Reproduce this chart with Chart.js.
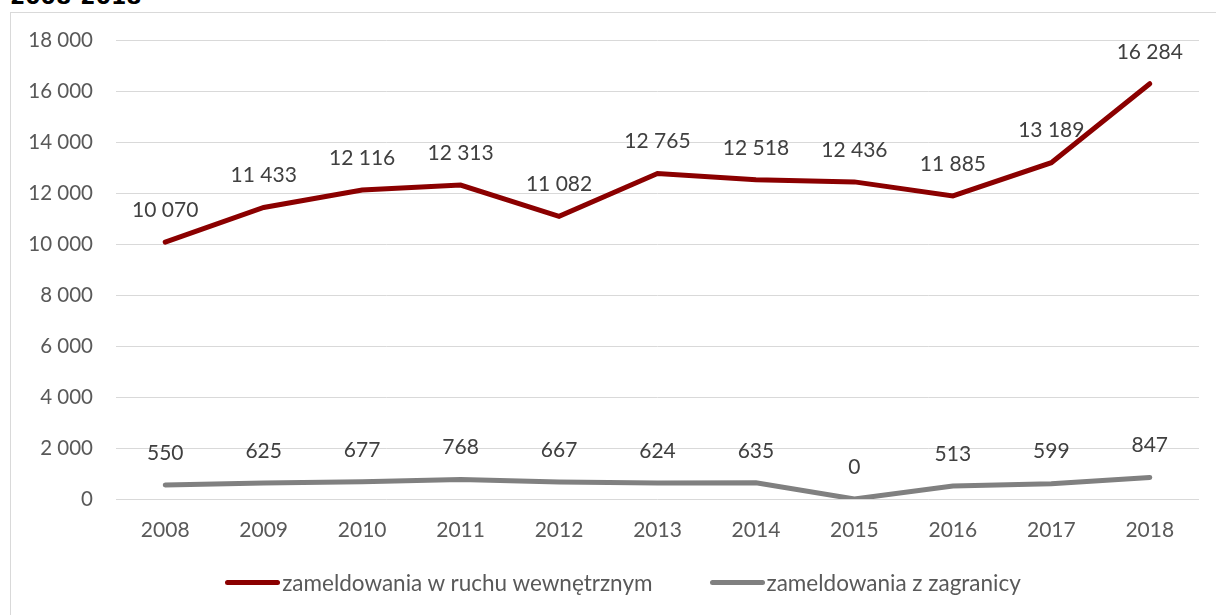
<!DOCTYPE html>
<html>
<head>
<meta charset="utf-8">
<script src="https://cdn.jsdelivr.net/npm/chart.js@4/dist/chart.umd.min.js"></script>
<style>
    html, body { margin: 0; padding: 0; background: #fff; width: 1216px; height: 615px; overflow: hidden; }
    .title { position: absolute; left: 10px; top: -16px; font: bold 22px "DejaVu Sans", sans-serif; color: #000; }
    .frame { position: absolute; left: 10px; top: 12px; width: 1220px; height: 620px; border: 1px solid #d9d9d9; }
    #chartWrap { position: absolute; left: 0; top: 0; width: 1216px; height: 615px; }
    .legend { position: absolute; top: 569px; left: 0; width: 1216px; display: flex; justify-content: center; gap: 57px; font: 22.5px Lato, "Open Sans", sans-serif; color: #595959; padding-left: 30px; box-sizing: border-box; }
    .legend span.item { display: flex; align-items: center; }
    .legend i { display: inline-block; width: 55px; height: 5px; border-radius: 3px; margin-right: 2px; }
</style>
</head>
<body>
<div class="title">2008-2018</div>
<div class="frame"></div>
<div id="chartWrap"><canvas id="lineChart" width="1216" height="615"></canvas></div>
<div class="legend">
    <span class="item"><i style="background:#8b0000"></i>zameldowania w ruchu wewnętrznym</span>
    <span class="item"><i style="background:#808080"></i>zameldowania z zagranicy</span>
</div>
<script>
// Chart data
const years = ['2008', '2009', '2010', '2011', '2012', '2013', '2014', '2015', '2016', '2017', '2018'];
const internalMoves = [10070, 11433, 12116, 12313, 11082, 12765, 12518, 12436, 11885, 13189, 16284];
const fromAbroad = [550, 625, 677, 768, 667, 624, 635, 0, 513, 599, 847];
const yTicks = [0, 2000, 4000, 6000, 8000, 10000, 12000, 14000, 16000, 18000];

const labelFont = 'Lato, "Open Sans", sans-serif';

function formatNumber(value) {
    return String(value).replace(/\B(?=(\d{3})+(?!\d))/g, ' ');
}

// Draw value labels above each point
const valueLabels = {
    id: 'valueLabels',
    afterDatasetsDraw(chart) {
        const ctx = chart.ctx;
        ctx.save();
        ctx.font = '21px ' + labelFont;
        ctx.fillStyle = '#404040';
        ctx.textAlign = 'center';
        ctx.textBaseline = 'middle';
        chart.data.datasets.forEach((ds, i) => {
            chart.getDatasetMeta(i).data.forEach((pt, j) => {
                ctx.fillText(formatNumber(ds.data[j]), pt.x, pt.y - 32);
            });
        });
        ctx.restore();
    }
};

const ctx = document.getElementById('lineChart');
new Chart(ctx, {
    type: 'line',
    data: {
        labels: years,
        datasets: [{
            label: 'zameldowania w ruchu wewnętrznym',
            data: internalMoves,
            borderColor: '#8b0000',
            borderWidth: 5,
            pointRadius: 0,
            tension: 0,
            borderCapStyle: 'round'
        }, {
            label: 'zameldowania z zagranicy',
            data: fromAbroad,
            borderColor: '#808080',
            borderWidth: 5,
            pointRadius: 0,
            tension: 0,
            borderCapStyle: 'round'
        }]
    },
    options: {
        responsive: false,
        animation: false,
        layout: { padding: { top: 40, right: 17, left: 0, bottom: 0 } },
        plugins: {
            legend: { display: false },
            tooltip: { enabled: false }
        },
        scales: {
            x: {
                offset: true,
                grid: { display: false, drawTicks: false },
                border: { display: false },
                ticks: {
                    color: '#595959',
                    font: { size: 21, family: labelFont },
                    padding: 19,
                    maxRotation: 0
                },
                afterFit(scale) { scale.height = 116; }
            },
            y: {
                min: 0,
                max: 18000,
                afterBuildTicks(scale) { scale.ticks = yTicks.map(v => ({ value: v })); },
                grid: { color: '#d9d9d9', lineWidth: 1, drawTicks: false },
                border: { display: false },
                ticks: {
                    color: '#595959',
                    font: { size: 20.5, family: labelFont },
                    padding: 23,
                    callback: value => formatNumber(value)
                },
                afterFit(scale) { scale.width = 116; }
            }
        }
    },
    plugins: [valueLabels]
});
</script>
</body>
</html>
